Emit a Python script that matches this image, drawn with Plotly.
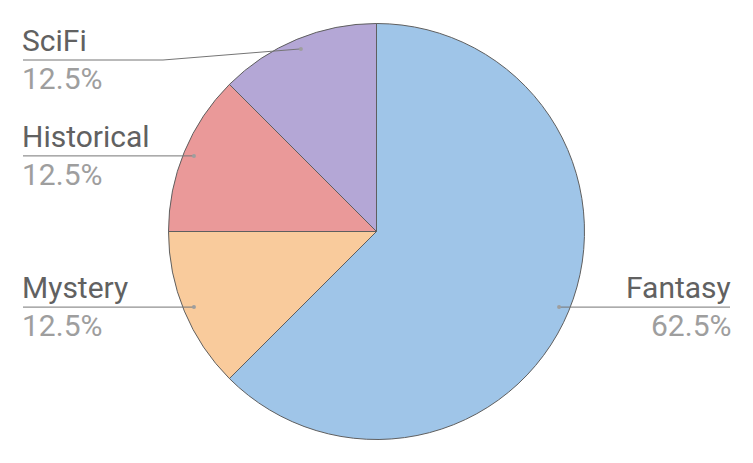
import numpy as np
import plotly.graph_objects as go

# data
genres = ["Fantasy", "Mystery", "Historical", "SciFi"]
counts = [5, 1, 1, 1]
slice_colors = ["#9fc5e8", "#f9cb9c", "#ea9999", "#b4a7d6"]

W, H = 753, 463
cx, cy, r = 376.5, 231.5, 208  # pie centre / radius in pixels

fig = go.Figure()

fig.add_trace(go.Pie(
    labels=genres, values=counts, sort=False, direction="clockwise", rotation=0,
    marker=dict(colors=slice_colors, line=dict(color="#5f5f5f", width=1)),
    textinfo="none", hoverinfo="label+percent", showlegend=False,
    domain=dict(x=[0, 1], y=[(H - cy - r) / H, (H - cy + r) / H]),
))

# leader lines + labels, worked out from slice angles
fracs = np.array(counts) / np.sum(counts)
starts = np.concatenate([[0], np.cumsum(fracs)[:-1]]) * 360
mids = np.radians(starts + fracs * 180)

shapes, annotations = [], []
for name, f, a in zip(genres, fracs, mids):
    dx, dy = cx + 0.95 * r * np.sin(a), cy - 0.95 * r * np.cos(a)
    left = np.sin(a) < 0
    ly = max(dy, 60)
    edge = 23 if left else W - 23
    bend = 163 if left else W - 163
    shapes.append(dict(type="path", xref="x", yref="y", layer="above",
                       path="M %.1f %.1f L %.1f %.1f L %.1f %.1f" % (dx, dy, bend, ly, edge, ly),
                       line=dict(color="#757575", width=1)))
    shapes.append(dict(type="circle", xref="x", yref="y", layer="above",
                       x0=dx - 2, x1=dx + 2, y0=dy - 2, y1=dy + 2,
                       fillcolor="#9e9e9e", line=dict(width=0)))
    anchor = "left" if left else "right"
    tx = edge - 1 if left else edge + 1
    annotations.append(dict(x=tx, y=ly - 2, text=name, showarrow=False, xanchor=anchor,
                            yanchor="bottom", borderpad=0, borderwidth=0,
                            font=dict(size=30, color="#616161")))
    annotations.append(dict(x=tx, y=ly + 1, text="%.1f%%" % (f * 100), showarrow=False,
                            xanchor=anchor, yanchor="top", borderpad=0, borderwidth=0,
                            font=dict(size=30, color="#9e9e9e")))

axis = dict(showline=False, zeroline=False, showgrid=False, ticks="", showticklabels=False)
fig.update_layout(
    width=W, height=H, margin=dict(l=0, r=0, t=0, b=0),
    paper_bgcolor="white", plot_bgcolor="rgba(0,0,0,0)",
    font=dict(family="Roboto"),
    xaxis=dict(axis, range=[0, W], domain=[0, 1]),
    yaxis=dict(axis, range=[H, 0], domain=[0, 1]),
    shapes=shapes, annotations=annotations, showlegend=False,
)

fig.write_html("out.html", config={"displayModeBar": False},
               post_script="document.body.style.margin='0';")
